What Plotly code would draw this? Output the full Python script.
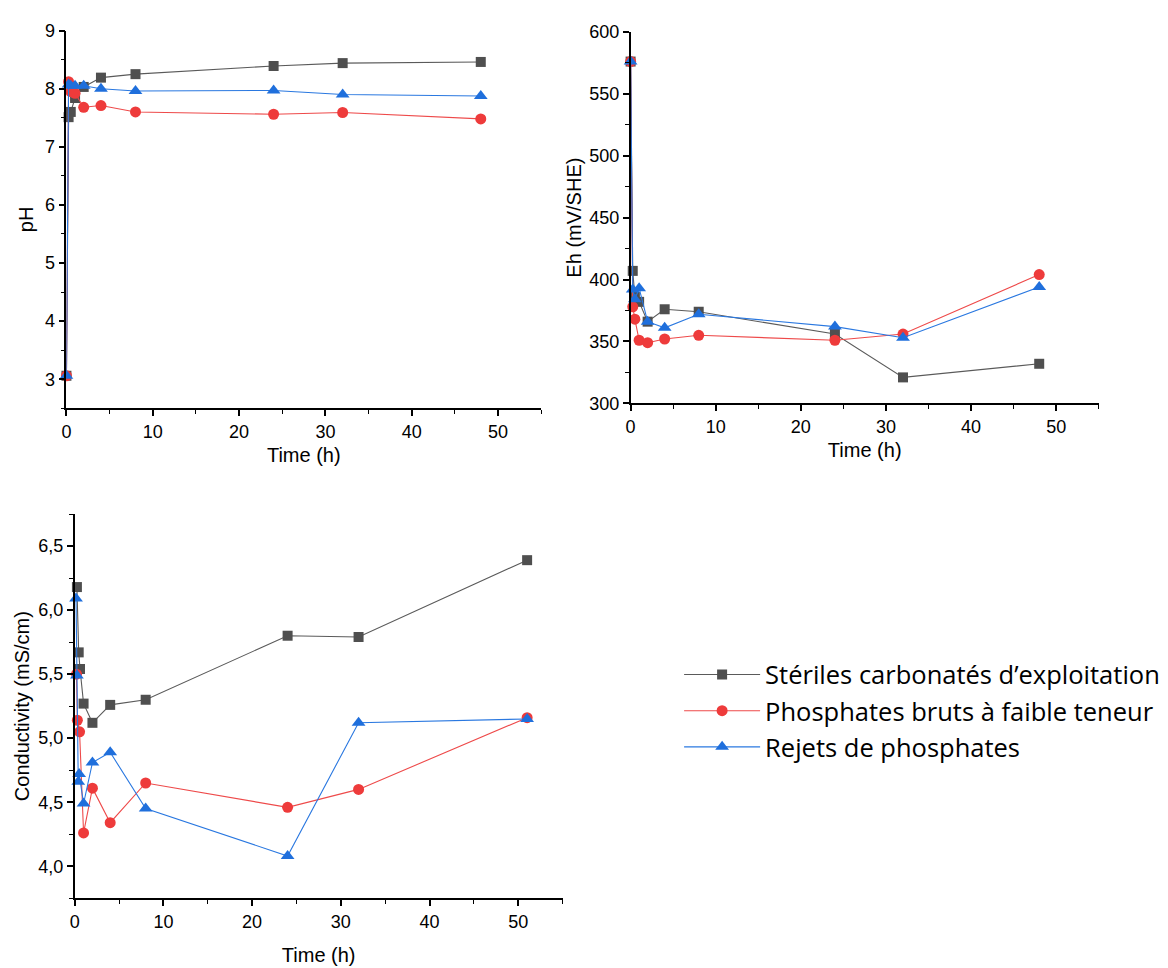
import plotly.graph_objects as go

# Sampling times (h) and measured values for each material
names = ["Stériles carbonatés d’exploitation",
         "Phosphates bruts à faible teneur",
         "Rejets de phosphates"]

t_ph = [0, 0.25, 0.5, 1, 2, 4, 8, 24, 32, 48]
ph_ster = [3.06, 7.51, 7.60, 7.84, 8.03, 8.19, 8.25, 8.39, 8.44, 8.46]
ph_brut = [3.06, 8.12, 7.95, 7.92, 7.68, 7.71, 7.60, 7.56, 7.59, 7.48]
ph_rej = [3.06, 8.07, 8.05, 8.05, 8.05, 8.00, 7.96, 7.97, 7.90, 7.875]

t_eh = [0, 0.25, 0.5, 1, 2, 4, 8, 24, 32, 48]
eh_ster = [576, 407, 386, 382, 366, 376, 374, 356, 321, 332]
eh_brut = [576, 378, 368, 351, 349, 352, 355, 351, 356, 404]
eh_rej = [576, 392, 384, 393, 366, 361, 372, 362, 353, 394]

t_cd_ster = [0.25, 0.45, 0.6, 1, 2, 4, 8, 24, 32, 51]
cd_ster = [6.18, 5.67, 5.54, 5.27, 5.12, 5.26, 5.30, 5.80, 5.79, 6.39]
t_cd_brut = [0.2, 0.3, 0.55, 1, 2, 4, 8, 24, 32, 51]
cd_brut = [5.50, 5.14, 5.05, 4.26, 4.61, 4.34, 4.65, 4.46, 4.60, 5.16]
t_cd_rej = [0.15, 0.25, 0.4, 0.5, 1, 2, 4, 8, 24, 32, 51]
cd_rej = [6.09, 5.49, 4.66, 4.72, 4.49, 4.81, 4.89, 4.45, 4.08, 5.12, 5.15]

colors = ["#4f4f4f", "#ee3b3b", "#1f6fdc"]
line_colors = ["#5a5a5a", "#ee4a4a", "#2a78e0"]
symbols = ["square", "circle", "triangle-up"]
sizes = [10, 11, 12]

W, H = 1168, 968


def dom_x(a, b):
    return [a / W, b / W]


def dom_y(top, bottom):
    return [1 - bottom / H, 1 - top / H]


fig = go.Figure()

panels = [
    ("x", "y", [(t_ph, ph_ster), (t_ph, ph_brut), (t_ph, ph_rej)], True),
    ("x2", "y2", [(t_eh, eh_ster), (t_eh, eh_brut), (t_eh, eh_rej)], False),
    ("x3", "y3", [(t_cd_ster, cd_ster), (t_cd_brut, cd_brut), (t_cd_rej, cd_rej)], False),
]

for xa, ya, series, show in panels:
    for i, (tx, vy) in enumerate(series):
        fig.add_trace(go.Scatter(
            x=tx, y=vy, xaxis=xa, yaxis=ya,
            mode="lines+markers",
            name=names[i], legendgroup=names[i], showlegend=show,
            line=dict(color=line_colors[i], width=1.1),
            marker=dict(symbol=symbols[i], color=colors[i], size=sizes[i],
                        line=dict(width=0)),
            cliponaxis=False,
        ))

axis_font = dict(family="Liberation Sans, Arial", size=18, color="#000")
title_font = dict(family="Liberation Sans, Arial", size=20, color="#000")


def xaxis(domain, anchor, standoff):
    return dict(domain=domain, anchor=anchor, range=[0, 55],
                tickmode="linear", tick0=0, dtick=10,
                showline=True, linecolor="#000", linewidth=1.6,
                ticks="outside", ticklen=6, tickwidth=1.6, tickcolor="#000",
                minor=dict(dtick=5, ticks="outside", ticklen=3.5, tickwidth=1.4,
                           tickcolor="#000", showgrid=False),
                showgrid=False, zeroline=False, mirror=False,
                tickfont=axis_font,
                title=dict(text="Time (h)", font=title_font, standoff=standoff))


def yaxis(domain, anchor, rng, tick0, dtick, mdtick, title, standoff, fmt=None):
    d = dict(domain=domain, anchor=anchor, range=rng,
             tickmode="linear", tick0=tick0, dtick=dtick,
             showline=True, linecolor="#000", linewidth=1.6,
             ticks="outside", ticklen=6, tickwidth=1.6, tickcolor="#000",
             minor=dict(dtick=mdtick, ticks="outside", ticklen=3.5, tickwidth=1.4,
                        tickcolor="#000", showgrid=False),
             showgrid=False, zeroline=False, mirror=False,
             tickfont=axis_font,
             title=dict(text=title, font=title_font, standoff=standoff))
    if fmt:
        d["tickformat"] = fmt
    return d


fig.update_layout(
    width=W, height=H,
    margin=dict(l=0, r=0, t=0, b=0),
    paper_bgcolor="white", plot_bgcolor="white",
    separators=", ",
    xaxis=xaxis(dom_x(61.7, 538.5), "y", 7),
    yaxis=yaxis(dom_y(21, 406.7), "x", [2.5, 9.0], 3, 1, 0.5, "pH", 6),
    xaxis2=xaxis(dom_x(628.3, 1098.5), "y2", 7),
    yaxis2=yaxis(dom_y(22.3, 401.7), "x2", [300, 600], 300, 50, 25,
                 "Eh (mV/SHE)", 2),
    xaxis3=xaxis(dom_x(70, 560), "y3", 17),
    yaxis3=yaxis(dom_y(514.7, 907), "x3", [3.75, 6.75], 4.0, 0.5, 0.25,
                 "Conductivity (mS/cm)", 3, fmt=".1f"),
    legend=dict(x=677 / W, y=1 - 655 / H, xanchor="left", yanchor="top",
                font=dict(family="Open Sans, Noto Sans", size=25.5, color="#000"),
                itemwidth=76, tracegroupgap=0, bgcolor="rgba(0,0,0,0)"),
)

fig.write_html("out.html")
